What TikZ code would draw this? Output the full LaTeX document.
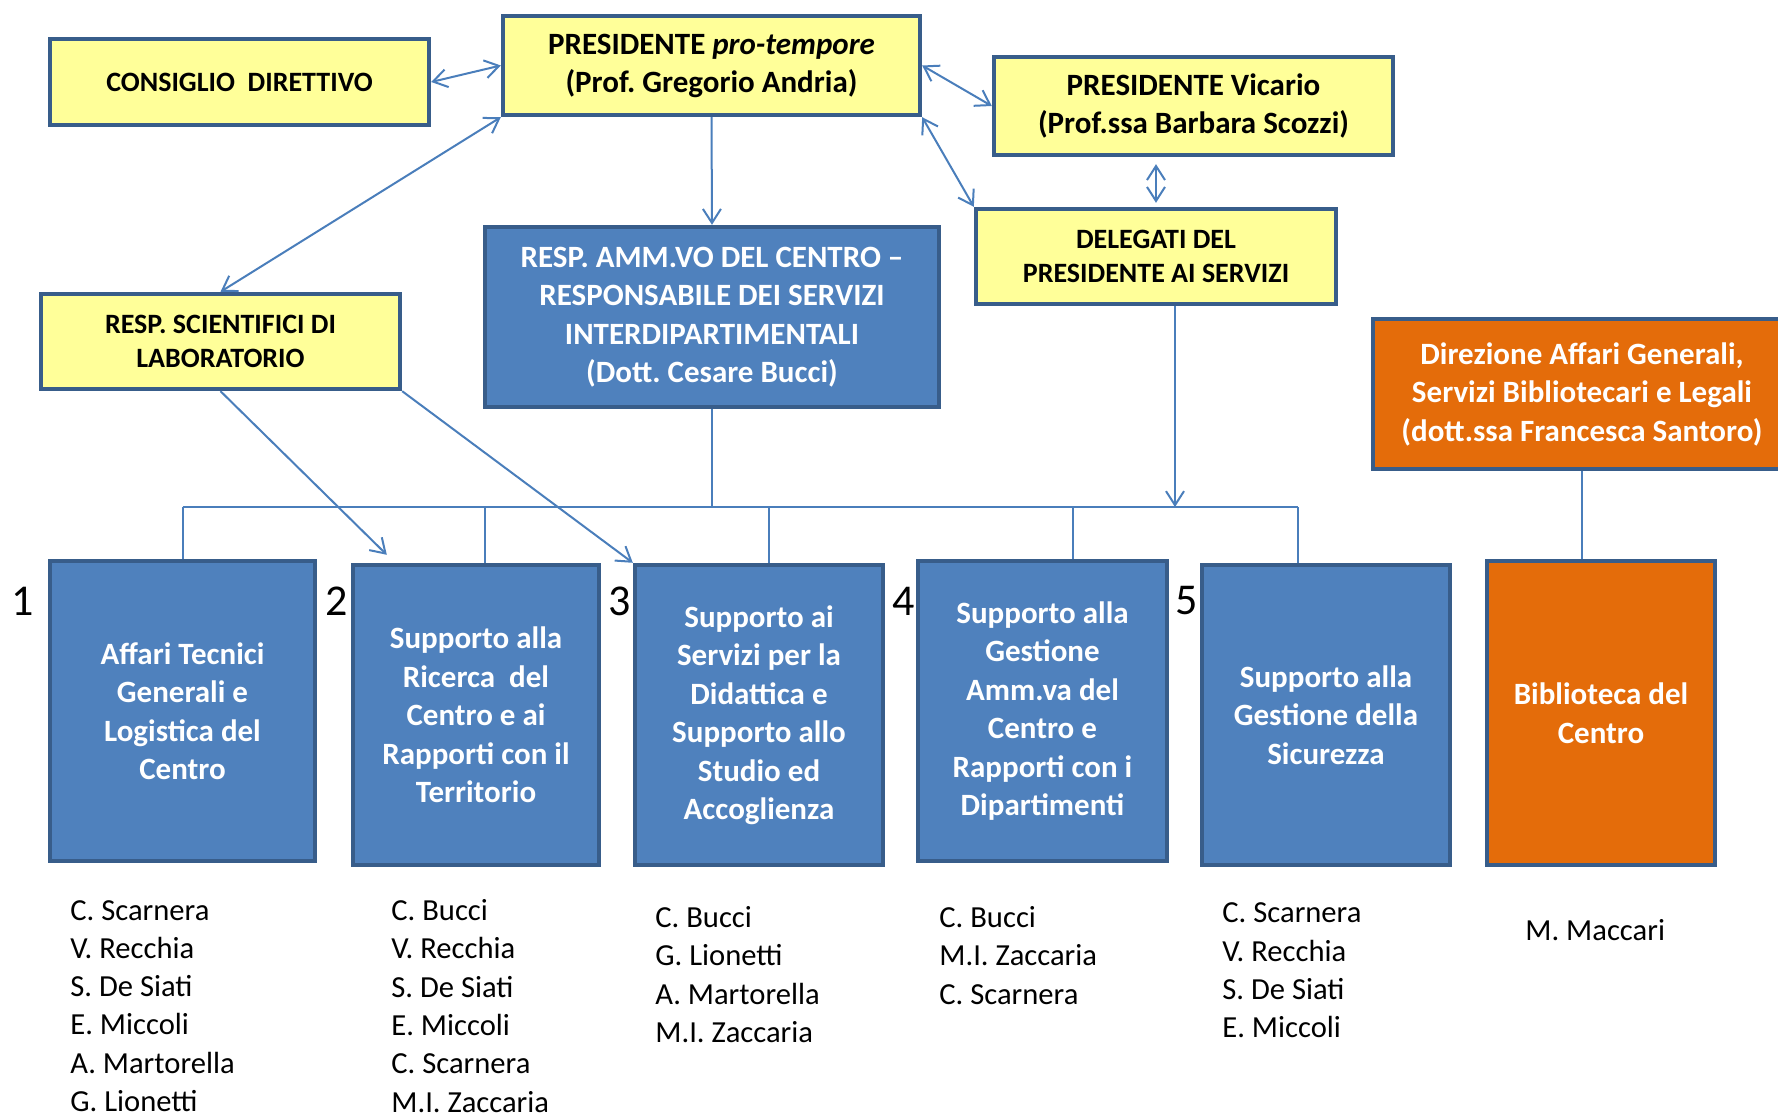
\documentclass[tikz,border=0pt]{standalone}
\usepackage{fontspec}
\setmainfont{Carlito}
\frenchspacing
\usetikzlibrary{arrows.meta}
\usetikzlibrary{calc}
\usetikzlibrary{positioning}
\definecolor{boxyellow}{HTML}{FFFF99}
\definecolor{boxblue}{HTML}{4F81BD}
\definecolor{boxedge}{HTML}{385D8A}
\definecolor{boxorange}{HTML}{E46C0A}
\definecolor{linkblue}{HTML}{4A7EBB}

\tikzset{
  ybox/.style={draw=boxedge, line width=2.2pt, fill=boxyellow, inner sep=0pt,
    align=center, font={\bfseries\fontsize{15.5}{19}\selectfont}},
  ysmall/.style={ybox, font={\bfseries\fontsize{14}{17}\selectfont}},
  bbox/.style={draw=boxedge, line width=2.2pt, fill=boxblue, text=white, inner sep=0pt,
    align=center, font={\bfseries\fontsize{15.5}{19.25}\selectfont}},
  obox/.style={bbox, fill=boxorange},
  link/.style={draw=linkblue, line width=1pt},
  oneway/.style={link, -{Straight Barb[length=7pt,width=9pt]}},
  twoway/.style={link, {Straight Barb[length=7pt,width=9pt]}-{Straight Barb[length=7pt,width=9pt]}},
  num/.style={inner sep=0pt, font={\fontsize{22}{26}\selectfont}},
  names/.style={inner sep=0pt, anchor=west, align=left, font={\fontsize{15.3}{19.15}\selectfont}}
}

\begin{document}
\begin{tikzpicture}[x=0.5pt,y=-0.5pt]
  \useasboundingbox (0,0) rectangle (1778,1118);

  % vertici
  \node[ysmall, minimum width=189.5pt, minimum height=43pt] (consiglio) at (239.5,82) {CONSIGLIO \ DIRETTIVO};
  \node[ybox, minimum width=208.5pt, minimum height=49.5pt] (pres) at (711.5,65.5) {PRESIDENTE \textit{pro-tempore}\\(Prof. Gregorio Andria)};
  \node[ybox, minimum width=199.5pt, minimum height=49pt] (vicario) at (1193.5,106) {PRESIDENTE Vicario\\(Prof.ssa Barbara Scozzi)};
  \node[ysmall, minimum width=180pt, minimum height=47.5pt] (delegati) at (1156,256.5) {DELEGATI DEL\\PRESIDENTE AI SERVIZI};
  \node[bbox, minimum width=227pt, minimum height=90pt] (respamm) at (712,317) {RESP. AMM.VO DEL CENTRO --\\RESPONSABILE DEI SERVIZI\\INTERDIPARTIMENTALI\\(Dott. Cesare Bucci)};
  \node[ysmall, minimum width=179.5pt, minimum height=47.5pt] (respsci) at (220.5,341.5) {RESP. SCIENTIFICI DI\\LABORATORIO};
  \node[obox, minimum width=209pt, minimum height=75pt] (direzione) at (1582,394) {Direzione Affari Generali,\\Servizi Bibliotecari e Legali\\(dott.ssa Francesca Santoro)};

  % servizi
  \node[bbox, minimum width=132.5pt, minimum height=150pt] (box1) at (182.5,711) {Affari Tecnici\\Generali e\\Logistica del\\Centro};
  \node[bbox, minimum width=123pt, minimum height=150pt] (box2) at (476,715) {Supporto alla\\Ricerca \ del\\Centro e ai\\Rapporti con il\\Territorio};
  \node[bbox, minimum width=124pt, minimum height=150pt] (box3) at (759,715) {Supporto ai\\Servizi per la\\Didattica e\\Supporto allo\\Studio ed\\Accoglienza};
  \node[bbox, minimum width=124.5pt, minimum height=150pt] (box4) at (1042.5,711) {Supporto alla\\Gestione\\Amm.va del\\Centro e\\Rapporti con i\\Dipartimenti};
  \node[bbox, minimum width=124pt, minimum height=150pt] (box5) at (1326,715) {Supporto alla\\Gestione della\\Sicurezza};
  \node[obox, minimum width=114pt, minimum height=152pt] (biblio) at (1601,713) {Biblioteca del\\Centro};

  \node[num] (n1) at (23,601) {1};
  \node[num] (n2) at (337,601) {2};
  \node[num] (n3) at (620,601) {3};
  \node[num] (n4) at (904,601) {4};
  \node[num] (n5) at (1187,601) {5};

  % personale
  \node[names] (staff1) at (70,1006) {C. Scarnera\\V. Recchia\\S. De Siati\\E. Miccoli\\A. Martorella\\G. Lionetti};
  \node[names] (staff2) at (391,1006) {C. Bucci\\V. Recchia\\S. De Siati\\E. Miccoli\\C. Scarnera\\M.I. Zaccaria};
  \node[names] (staff3) at (655,974.5) {C. Bucci\\G. Lionetti\\A. Martorella\\M.I. Zaccaria};
  \node[names] (staff4) at (939,955.3) {C. Bucci\\M.I. Zaccaria\\C. Scarnera};
  \node[names] (staff5) at (1222,970.5) {C. Scarnera\\V. Recchia\\S. De Siati\\E. Miccoli};
  \node[names] (staff6) at (1525,930) {M. Maccari};

  % collegamenti
  \draw[twoway] (consiglio.east) -- (pres.west);
  \draw[twoway] (pres.east) -- (vicario.west);
  \draw[twoway] (pres.south east) -- (delegati.north west);
  \draw[twoway, shorten <=3.5pt, shorten >=2pt] (delegati.north |- vicario.south) -- (delegati.north);
  \draw[oneway] (pres.south) -- (respamm.north);
  \draw[twoway] (pres.south west) -- (respsci.north);

  \coordinate (t2) at ($(box2.north west)+(36,-8)$);
  \draw[oneway] (respsci.south) -- (t2);
  \draw[oneway] (respsci.south east) -- (box3.north west);

  \coordinate (bus) at (0,507);
  \foreach \b/\dx in {box1/0,box2/9,box3/10,box4/30,box5/-28} {
    \coordinate (drop\b) at ($(\b.north)+(\dx,0)$);
    \draw[link] (drop\b |- bus) -- (drop\b);
  }
  \draw[link] (dropbox1 |- bus) -- (dropbox5 |- bus);
  \draw[link] (respamm.south) -- (respamm.south |- bus);
  \coordinate (dtap) at ($(delegati.south)+(19,0)$);
  \draw[oneway] (dtap) -- (dtap |- bus);
  \draw[link] (direzione.south) -- (direzione.south |- biblio.north);
\end{tikzpicture}
\end{document}
